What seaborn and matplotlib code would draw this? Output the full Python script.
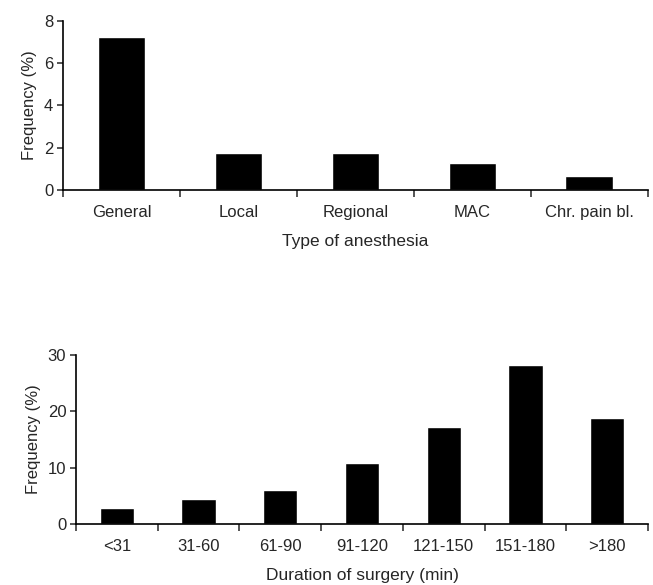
import numpy as np
import pandas as pd
import matplotlib
matplotlib.use("Agg")
import matplotlib.pyplot as plt
import seaborn as sns

# Data
anesthesia_types = ["General", "Local", "Regional", "MAC", "Chr. pain bl."]
anesthesia_freq = [7.24, 1.76, 1.76, 1.26, 0.66]

duration_bins = ["<31", "31-60", "61-90", "91-120", "121-150", "151-180", ">180"]
duration_freq = [2.9, 4.4, 6.0, 10.9, 17.3, 28.2, 18.8]

sns.set_style("ticks")
plt.rcParams["font.family"] = ["Liberation Sans", "DejaVu Sans"]

fig = plt.figure(figsize=(6.53, 5.85), dpi=100)
ax1 = fig.add_axes([0.0965, 0.675, 0.8958, 0.2894])
ax2 = fig.add_axes([0.1164, 0.1043, 0.8759, 0.2889])


def style_axis(ax, cats, ymax, yticks, xlabel):
    n = len(cats)
    ax.set_xlim(-0.5, n - 0.5)
    ax.set_ylim(0, ymax)
    ax.set_yticks(yticks)
    ax.set_xticks(np.arange(n))
    ax.set_xticklabels(cats, fontsize=12)
    ax.set_xticks(np.arange(n + 1) - 0.5, minor=True)
    ax.tick_params(axis="x", which="major", length=0, pad=11)
    ax.tick_params(axis="x", which="minor", length=5, width=1.1, direction="out")
    ax.tick_params(axis="y", length=4, width=1.1, direction="out", labelsize=12, pad=3)
    sns.despine(ax=ax)
    for s in ["left", "bottom"]:
        ax.spines[s].set_linewidth(1.2)
        ax.spines[s].set_color("black")
    ax.set_xlabel(xlabel, fontsize=12.5, labelpad=10)
    ax.set_ylabel("Frequency (%)", fontsize=12, labelpad=5)


df1 = pd.DataFrame({"type": anesthesia_types, "freq": anesthesia_freq})
sns.barplot(data=df1, x="type", y="freq", color="black", width=0.41,
            saturation=1, ax=ax1)
style_axis(ax1, anesthesia_types, 8, [0, 2, 4, 6, 8], "Type of anesthesia")

df2 = pd.DataFrame({"dur": duration_bins, "freq": duration_freq})
sns.barplot(data=df2, x="dur", y="freq", color="black", width=0.42,
            saturation=1, ax=ax2)
style_axis(ax2, duration_bins, 30, [0, 10, 20, 30], "Duration of surgery (min)")

fig.savefig("out.png", dpi=100)
